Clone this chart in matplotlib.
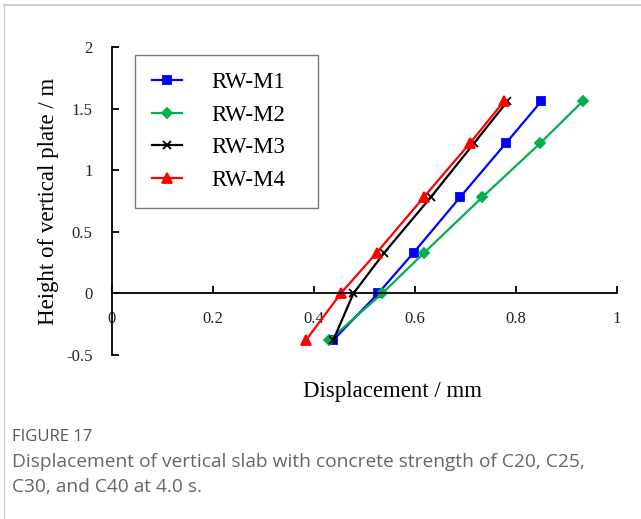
import matplotlib
matplotlib.use('Agg')
import matplotlib.pyplot as plt
from matplotlib.lines import Line2D

heights = [-0.38, 0.0, 0.33, 0.78, 1.22, 1.56]
rw_m1 = [0.438, 0.527, 0.597, 0.689, 0.780, 0.850]
rw_m2 = [0.430, 0.535, 0.618, 0.733, 0.848, 0.932]
rw_m3 = [0.438, 0.478, 0.539, 0.631, 0.717, 0.783]
rw_m4 = [0.384, 0.453, 0.524, 0.617, 0.709, 0.776]
series_names = ['RW-M1', 'RW-M2', 'RW-M3', 'RW-M4']
x_ticks = [0, 0.2, 0.4, 0.6, 0.8, 1]
x_tick_labels = ['0', '0.2', '0.4', '0.6', '0.8', '1']
y_ticks = [-0.5, 0, 0.5, 1, 1.5, 2]
y_tick_labels = ['-0.5', '0', '0.5', '1', '1.5', '2']

serif = 'Liberation Serif'
fig = plt.figure(figsize=(6.41, 5.19), dpi=100)
ax = fig.add_axes([0.1747, 0.316, 0.788, 0.5934])

styles = [('#0000ff', 's', 6), ('#00b050', 'D', 5.5), ('#000000', 'x', 6), ('#ff0000', '^', 7)]
for vals, name, (c, m, ms) in zip([rw_m1, rw_m2, rw_m3, rw_m4], series_names, styles):
    ax.plot(vals, heights, color=c, marker=m, markersize=ms, lw=1.6,
            markeredgewidth=1.3, label=name)

ax.set_xlim(0, 1)
ax.set_ylim(-0.5, 2)
ax.spines['top'].set_visible(False)
ax.spines['right'].set_visible(False)
ax.spines['bottom'].set_position(('data', 0))
ax.spines['bottom'].set_linewidth(1.3)
ax.spines['left'].set_linewidth(1.3)
ax.set_xticks(x_ticks)
ax.set_xticklabels(x_tick_labels, family=serif, fontsize=12, color='#222222')
ax.set_yticks(y_ticks)
ax.set_yticklabels(y_tick_labels, family=serif, fontsize=12, color='#222222')
ax.tick_params(axis='x', direction='in', length=5, width=1.3, pad=13)
ax.tick_params(axis='y', direction='in', length=5, width=1.3, pad=14)

ax.set_ylabel('Height of vertical plate / m', family=serif, fontsize=16.5, labelpad=5)
fig.text(0.612, 0.245, 'Displacement / mm', family=serif, fontsize=16.5, ha='center', va='center')

# legend box stretched to the reference width
leg = ax.legend(loc='upper left', bbox_to_anchor=(0.0455, 0.5, 0.362, 0.474), mode='expand',
                prop={'family': serif, 'size': 16.5},
                frameon=True, fancybox=False, edgecolor='#555555', handlelength=1.3,
                handletextpad=1.3, borderpad=0.75, labelspacing=0.5, borderaxespad=0)
leg.get_frame().set_linewidth(1.0)

fig.text(0.019, 0.158, 'FIGURE 17', family='Open Sans', fontsize=12, color='#555555', va='center')
fig.text(0.019, 0.11, 'Displacement of vertical slab with concrete strength of C20, C25,',
         family='Open Sans', fontsize=13.8, color='#666666', va='center')
fig.text(0.019, 0.062, 'C30, and C40 at 4.0 s.',
         family='Open Sans', fontsize=13.8, color='#666666', va='center')

fig.add_artist(Line2D([0.006, 1.0], [0.99, 0.99], color='#cccccc', lw=1.5, transform=fig.transFigure))
fig.add_artist(Line2D([0.006, 0.006], [0.0, 0.99], color='#cccccc', lw=1.0, transform=fig.transFigure))

fig.savefig('out.png', dpi=100)
